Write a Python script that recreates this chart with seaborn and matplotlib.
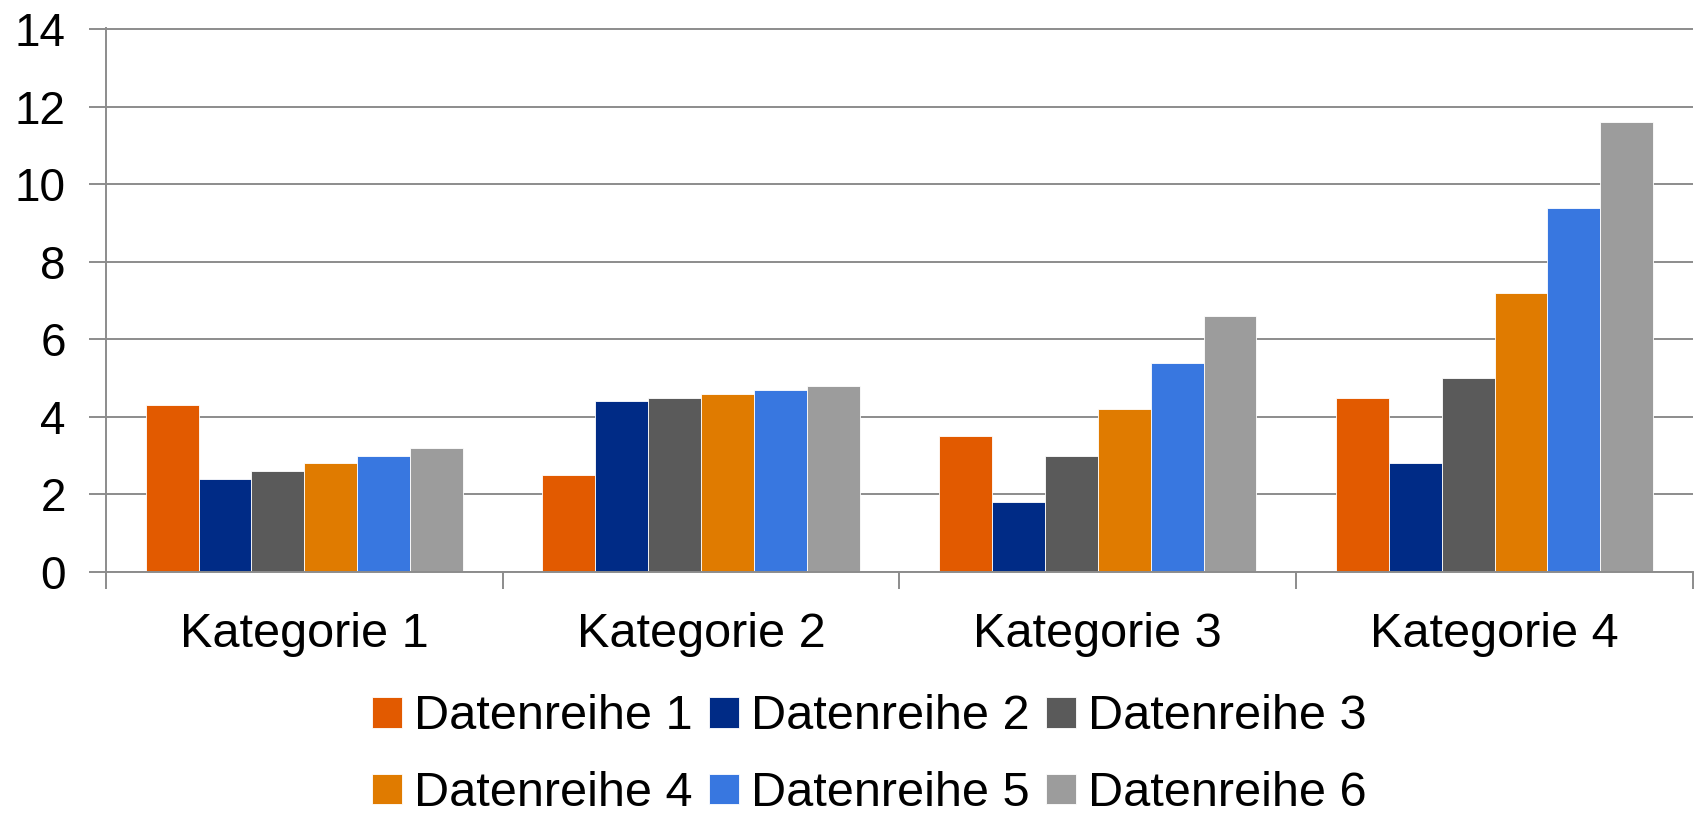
import matplotlib
matplotlib.use("Agg")
import matplotlib.pyplot as plt
import seaborn as sns
import pandas as pd

# values
categories = ["Kategorie 1", "Kategorie 2", "Kategorie 3", "Kategorie 4"]
series = ["Datenreihe 1", "Datenreihe 2", "Datenreihe 3",
          "Datenreihe 4", "Datenreihe 5", "Datenreihe 6"]
reihe1 = [4.3, 2.5, 3.5, 4.5]
reihe2 = [2.4, 4.4, 1.8, 2.8]
reihe3 = [2.6, 4.5, 3.0, 5.0]
reihe4 = [2.8, 4.6, 4.2, 7.2]
reihe5 = [3.0, 4.7, 5.4, 9.4]
reihe6 = [3.2, 4.8, 6.6, 11.6]
yticks = [0, 2, 4, 6, 8, 10, 12, 14]

colors = ["#E25A00", "#002B86", "#5A5A5A", "#E07B00", "#3877E0", "#9C9C9C"]

rows = []
for name, vals in zip(series, [reihe1, reihe2, reihe3, reihe4, reihe5, reihe6]):
    for cat, v in zip(categories, vals):
        rows.append({"Kategorie": cat, "Reihe": name, "Wert": v})
df = pd.DataFrame(rows)

sns.set_style("white")
plt.rcParams["font.family"] = ["Liberation Sans", "DejaVu Sans"]
plt.rcParams["text.color"] = "black"
plt.rcParams["xtick.color"] = "black"
plt.rcParams["ytick.color"] = "black"

fig = plt.figure(figsize=(16.98, 8.13), dpi=100)
ax = fig.add_axes([0.0624, 0.2964, 0.9346, 0.6692])

sns.barplot(data=df, x="Kategorie", y="Wert", hue="Reihe", palette=colors,
            width=0.8, saturation=1, edgecolor="#ffffff", linewidth=0.6,
            ax=ax, legend=True)

grid_c = "#8C8C8C"
ax.set_ylim(0, 14.03)
ax.set_xlim(-0.5, 3.5)
ax.set_yticks(yticks)
ax.set_yticklabels([str(t) for t in yticks])
ax.yaxis.grid(True, color=grid_c, linewidth=1.4)
ax.set_axisbelow(True)
ax.set_xlabel("")
ax.set_ylabel("")

for s in ["top", "right"]:
    ax.spines[s].set_visible(False)
for s in ["left", "bottom"]:
    ax.spines[s].set_color(grid_c)
    ax.spines[s].set_linewidth(1.4)

ax.set_xticks([-0.5, 0.5, 1.5, 2.5, 3.5], minor=True)
ax.tick_params(axis="x", which="major", bottom=False, length=0, pad=29,
               labelsize=35, labelcolor="black")
ax.tick_params(axis="x", which="minor", bottom=True, length=12, width=1.4,
               color=grid_c, direction="out")
ax.tick_params(axis="y", left=True, length=12, width=1.4, color=grid_c,
               labelsize=33, pad=17, labelcolor="black")

handles, labels = ax.get_legend_handles_labels()
order = [0, 3, 1, 4, 2, 5]
ax.legend([handles[i] for i in order], [labels[i] for i in order],
          loc="center", bbox_to_anchor=(0.512, 0.071),
          bbox_transform=fig.transFigure, ncol=3, frameon=False,
          fontsize=35, handlelength=0.6, handleheight=0.6,
          handletextpad=0.25, columnspacing=0.35, labelspacing=0.65)

fig.savefig("out.png", dpi=100)
